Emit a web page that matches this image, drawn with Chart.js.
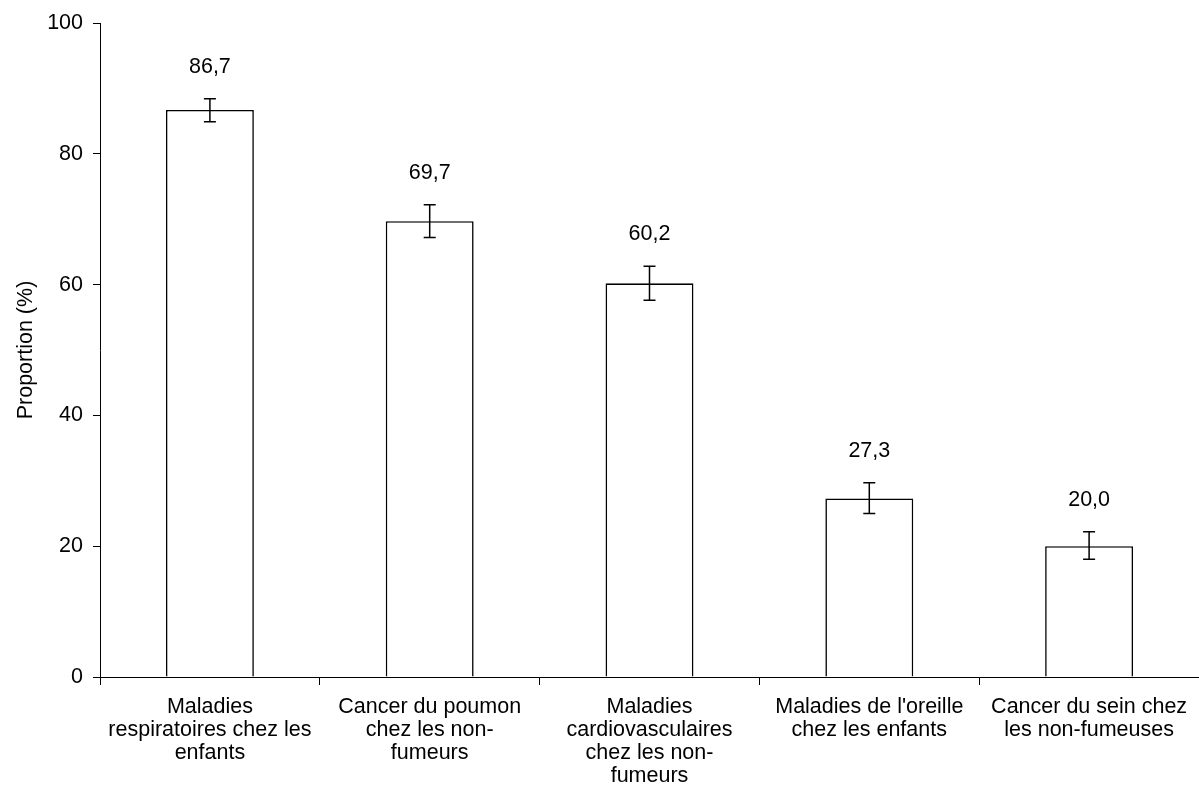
<!DOCTYPE html>
<html><head><meta charset="utf-8">
<script src="https://cdn.jsdelivr.net/npm/chart.js@4"></script>
<style>html,body{margin:0;padding:0;background:#fff}#wrap{width:1199px;height:800px}</style>
</head><body><div id="wrap"><canvas id="c"></canvas></div>
<script>
const categories = [
  ["Maladies", "respiratoires chez les", "enfants"],
  ["Cancer du poumon", "chez les non-", "fumeurs"],
  ["Maladies", "cardiovasculaires", "chez les non-", "fumeurs"],
  ["Maladies de l'oreille", "chez les enfants"],
  ["Cancer du sein chez", "les non-fumeuses"]
];
const values = [86.7, 69.7, 60.2, 27.3, 20.0];
const errLow = [84.9, 67.2, 57.6, 25.0, 18.0];
const errHigh = [88.4, 72.2, 62.8, 29.7, 22.2];
const yTicks = [0, 20, 40, 60, 80, 100];

const FONT = "'Liberation Sans', Arial, sans-serif";
const FS = 21.5;

const errPlugin = {
  id: 'errbars',
  afterDatasetsDraw(chart) {
    const ctx = chart.ctx, x = chart.scales.x, y = chart.scales.y;
    ctx.save();
    ctx.strokeStyle = '#000'; ctx.lineWidth = 1.5;
    ctx.fillStyle = '#000';
    ctx.font = FS + 'px ' + FONT;
    ctx.textAlign = 'center'; ctx.textBaseline = 'middle';
    values.forEach((v, i) => {
      const cx = x.getPixelForValue(i);
      const yl = y.getPixelForValue(errLow[i]);
      const yh = y.getPixelForValue(errHigh[i]);
      ctx.beginPath();
      ctx.moveTo(cx, yl); ctx.lineTo(cx, yh);
      ctx.moveTo(cx - 6, yl); ctx.lineTo(cx + 6, yl);
      ctx.moveTo(cx - 6, yh); ctx.lineTo(cx + 6, yh);
      ctx.stroke();
      ctx.fillText(v.toFixed(1).replace('.', ','), cx, yh - 32);
    });
    ctx.restore();
  }
};

new Chart(document.getElementById('c'), {
  type: 'bar',
  data: {
    labels: categories,
    datasets: [{
      data: values,
      backgroundColor: '#fff',
      borderColor: '#000',
      borderWidth: 1.6,
      barPercentage: 0.4,
      categoryPercentage: 1.0
    }]
  },
  options: {
    responsive: true, maintainAspectRatio: false, animation: false,
    devicePixelRatio: 1,
    layout: { padding: { top: 23, right: 0, left: 0, bottom: 0 } },
    plugins: { legend: { display: false }, tooltip: { enabled: false } },
    scales: {
      x: {
        offset: true,
        grid: { offset: true, drawOnChartArea: false, color: '#000', tickLength: 8, lineWidth: 1 },
        border: { color: '#000', width: 1 },
        ticks: { color: '#000', font: { family: FONT, size: FS, lineHeight: 23 / FS }, maxRotation: 0, autoSkip: false, padding: 11 },
        afterFit(s) { s.height = 123; }
      },
      y: {
        min: 0, max: 100,
        afterBuildTicks(s) { s.ticks = yTicks.map(v => ({ value: v })); },
        grid: { drawOnChartArea: false, color: '#000', tickLength: 7, lineWidth: 1 },
        border: { color: '#000', width: 1 },
        ticks: { color: '#000', font: { family: FONT, size: FS }, padding: 10 },
        title: { display: true, text: 'Proportion (%)', color: '#000', font: { family: FONT, size: FS }, padding: { top: 13, bottom: 0 } },
        afterFit(s) { s.width = 100; }
      }
    }
  },
  plugins: [errPlugin]
});
</script></body></html>
